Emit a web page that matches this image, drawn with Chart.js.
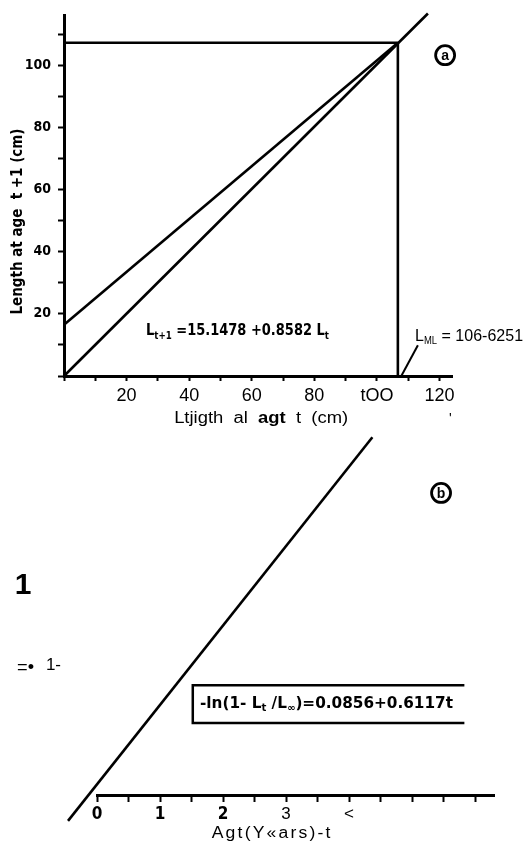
<!DOCTYPE html>
<html><head><meta charset="utf-8">
<script src="https://cdn.jsdelivr.net/npm/chart.js@4.4.1/dist/chart.umd.min.js"></script>
<style>
html,body{margin:0;padding:0;background:#fff;width:527px;height:847px;overflow:hidden}
canvas{position:absolute;left:0;top:0}
</style></head><body>
<canvas id="chartA" width="527" height="847"></canvas>
<canvas id="chartB" width="527" height="847"></canvas>
<script>
// ---------- Panel (a): Ford-Walford plot ----------
const aIdentityX = [0, 116.3];
const aIdentityY = [0, 116.6];
const aRegressionX = [0, 106.7];
const aRegressionY = [16.5, 107.2];
const aLinfHorizX = [0, 106.7];
const aLinfHorizY = [107.2, 107.2];
const aLinfVertX = [106.7, 106.7];
const aLinfVertY = [0, 107.2];
const aPointerX = [113.1, 107.8];
const aPointerY = [9.9, 0];
const aXTickValues = [0, 10, 20, 30, 40, 50, 60, 70, 80, 90, 100, 110, 120];
const aXLabelValues = [20, 40, 60, 80, 100, 120];
const aXLabelTexts = ['20', '40', '60', '80', 'tOO', '120'];
const aYTickValues = [0, 10, 20, 30, 40, 50, 60, 70, 80, 90, 100, 110];
const aYLabelValues = [20, 40, 60, 80, 100];
const aYLabelTexts = ['20', '40', '60', '80', '100'];

// ---------- Panel (b): von Bertalanffy linearisation ----------
const bLineT = [-0.46, 4.37];
const bLineY = [-0.2, 2.76];
const bXTickValues = [0, 0.5, 1, 1.5, 2, 2.5, 3, 3.5, 4, 4.5, 5, 5.5, 6];
const bXLabelValues = [0, 1, 2, 3, 4];
const bXLabelTexts = ['0', '1', '2', '3', '<'];
const bXLabelBold = [true, true, true, false, false];
const bYTickValues = [1];
const bYLabelTexts = ['1-'];

const COND = "'DejaVu Sans Condensed','Liberation Sans Narrow','DejaVu Sans',sans-serif";
const SANS = "'Liberation Sans',Arial,sans-serif";

function pts(xs, ys) { return xs.map((x, i) => ({x: x, y: ys[i]})); }
function ds(xs, ys, extra) {
  return Object.assign({data: pts(xs, ys), showLine: true, borderColor: '#000', borderWidth: 2.6,
    pointRadius: 0, fill: false, tension: 0, clip: false}, extra || {});
}
function fitText(ctx, segs, x, y, width, align) {
  let total = 0;
  segs.forEach(s => { ctx.font = s.font; s.w = ctx.measureText(s.text).width; total += s.w; });
  const sx = width ? width / total : 1;
  ctx.save();
  const x0 = align === 'center' ? x - total * sx / 2 : x;
  ctx.translate(x0, y); ctx.scale(sx, 1);
  ctx.fillStyle = '#000'; ctx.textAlign = 'left'; ctx.textBaseline = 'alphabetic';
  let cx = 0;
  segs.forEach(s => { ctx.font = s.font; ctx.fillText(s.text, cx, s.dy || 0); cx += s.w; });
  ctx.restore();
}
function circled(ctx, cx, cy, letter) {
  ctx.save();
  ctx.lineWidth = 2.8; ctx.strokeStyle = '#000';
  ctx.beginPath(); ctx.arc(cx, cy, 9.5, 0, Math.PI * 2); ctx.stroke();
  ctx.fillStyle = '#000'; ctx.font = 'bold 14px ' + SANS; ctx.textAlign = 'center'; ctx.textBaseline = 'middle';
  ctx.fillText(letter, cx, cy + 1);
  ctx.restore();
}
function fixTicks(values) { return s => { s.ticks = values.map(v => ({value: v})); }; }
function labelFor(values, texts) { return v => { const i = values.indexOf(v); return i < 0 ? '' : texts[i]; }; }

const gridTicks = (len) => ({display: true, drawOnChartArea: false, drawTicks: true, tickLength: len,
  tickColor: '#000', tickWidth: 2, color: '#000'});
const axisBorder = {display: true, color: '#000', width: 3};

const annotA = {
  id: 'annotA',
  afterDraw(chart) {
    const ctx = chart.ctx, x = chart.scales.x, y = chart.scales.y, ca = chart.chartArea;
    const B15 = 'bold 15px ' + COND, B10 = 'bold 10px ' + COND;
    fitText(ctx, [{text: 'L', font: B15}, {text: 't+1', font: B10, dy: 4},
      {text: ' =15.1478 +0.8582 L', font: B15}, {text: 't', font: B10, dy: 4}],
      x.getPixelForValue(26.2), y.getPixelForValue(13.3), 183, 'left');
    fitText(ctx, [{text: 'L', font: '17px ' + SANS}, {text: 'ML', font: '10px ' + SANS, dy: 3},
      {text: ' = 106-6251', font: '17px ' + SANS}],
      x.getPixelForValue(112.2), y.getPixelForValue(11.3), 108, 'left');
    circled(ctx, x.getPixelForValue(121.8), y.getPixelForValue(103.2), 'a');
    // y title
    ctx.save();
    ctx.translate(ca.left - 42, y.getPixelForValue(49.7));
    ctx.rotate(-Math.PI / 2);
    fitText(ctx, [{text: 'Length at age  t +1 (cm)', font: 'bold 16px ' + COND}], 0, 0, 186, 'center');
    ctx.restore();
    // x title
    fitText(ctx, [{text: 'Ltjigth  al  ', font: '16px ' + SANS}, {text: 'agt', font: 'bold 16px ' + SANS},
      {text: '  t  (cm)', font: '16px ' + SANS}], x.getPixelForValue(63), ca.bottom + 47, 174, 'center');
    fitText(ctx, [{text: "'", font: '14px ' + SANS}], x.getPixelForValue(123.5), ca.bottom + 47, 0, 'center');
  }
};

new Chart(document.getElementById('chartA'), {
  type: 'scatter',
  data: {datasets: [
    ds(aIdentityX, aIdentityY), ds(aRegressionX, aRegressionY),
    ds(aLinfHorizX, aLinfHorizY), ds(aLinfVertX, aLinfVertY),
    ds(aPointerX, aPointerY, {borderWidth: 2})
  ]},
  options: {
    responsive: false, animation: false, events: [],
    layout: {padding: {top: 12, left: 0, right: 75, bottom: 431}},
    plugins: {legend: {display: false}, tooltip: {enabled: false}},
    scales: {
      x: {type: 'linear', min: 0, max: 124, afterBuildTicks: fixTicks(aXTickValues),
        afterFit: s => { s.height = 40; },
        grid: gridTicks(5), border: axisBorder,
        ticks: {autoSkip: false, maxRotation: 0, padding: 4, color: '#000',
          font: {family: SANS, size: 18}, callback: labelFor(aXLabelValues, aXLabelTexts)}},
      y: {type: 'linear', min: 0, max: 116, afterBuildTicks: fixTicks(aYTickValues),
        afterFit: s => { s.width = 64; },
        grid: gridTicks(6), border: axisBorder,
        ticks: {autoSkip: false, padding: 7, color: '#000',
          font: {family: COND, size: 14, weight: 'bold'}, callback: labelFor(aYLabelValues, aYLabelTexts)}}
    }
  },
  plugins: [annotA]
});

const annotB = {
  id: 'annotB',
  afterDraw(chart) {
    const ctx = chart.ctx, x = chart.scales.x, y = chart.scales.y, ca = chart.chartArea;
    // box around equation
    const l = x.getPixelForValue(1.52), r = x.getPixelForValue(5.83);
    const t = y.getPixelForValue(0.847), b = y.getPixelForValue(0.555);
    ctx.save(); ctx.strokeStyle = '#000'; ctx.lineWidth = 2.5;
    ctx.beginPath(); ctx.moveTo(r, t); ctx.lineTo(l, t); ctx.lineTo(l, b); ctx.lineTo(r, b); ctx.stroke();
    ctx.restore();
    const B15 = 'bold 15px ' + COND, B10 = 'bold 10px ' + COND;
    fitText(ctx, [{text: '-ln(1- L', font: B15}, {text: 't', font: B10, dy: 3}, {text: ' /L', font: B15},
      {text: '\u221E', font: B10, dy: 3}, {text: ')=0.0856+0.6117t', font: B15}],
      x.getPixelForValue(1.635), y.getPixelForValue(0.67), 253, 'left');
    circled(ctx, x.getPixelForValue(5.46), y.getPixelForValue(2.33), 'b');
    // left-side labels
    ctx.save(); ctx.fillStyle = '#000'; ctx.font = 'bold 30px ' + SANS; ctx.textAlign = 'center';
    ctx.textBaseline = 'alphabetic';
    ctx.fillText('1', ca.left - 74, y.getPixelForValue(1.55));
    ctx.restore();
    fitText(ctx, [{text: '=\u2022', font: '18px ' + SANS}], ca.left - 80, y.getPixelForValue(0.94), 17, 'left');
    // x title
    ctx.save(); ctx.letterSpacing = '2px';
    fitText(ctx, [{text: 'Agt(Y\u00ABars)-t', font: '16px ' + SANS}], x.getPixelForValue(2.78), ca.bottom + 43, 121, 'center');
    ctx.restore();
  }
};

new Chart(document.getElementById('chartB'), {
  type: 'scatter',
  data: {datasets: [ds(bLineT, bLineY)]},
  options: {
    responsive: false, animation: false, events: [],
    layout: {padding: {top: 432, left: 0, right: 33, bottom: 12}},
    plugins: {legend: {display: false}, tooltip: {enabled: false}},
    scales: {
      x: {type: 'linear', min: 0, max: 6.3, afterBuildTicks: fixTicks(bXTickValues),
        afterFit: s => { s.height = 40; },
        grid: gridTicks(7), border: axisBorder,
        ticks: {autoSkip: false, maxRotation: 0, padding: 2, color: '#000',
          font: ctx => {
            const i = bXLabelValues.indexOf(ctx.tick ? ctx.tick.value : -1);
            return (i >= 0 && bXLabelBold[i]) ? {family: COND, size: 17, weight: 'bold'} : {family: SANS, size: 17};
          },
          callback: labelFor(bXLabelValues, bXLabelTexts)}},
      y: {type: 'linear', min: 0, max: 2.8, afterBuildTicks: fixTicks(bYTickValues),
        afterFit: s => { s.width = 97; },
        grid: {display: false, drawTicks: false}, border: {display: false},
        ticks: {autoSkip: false, padding: 36, color: '#000', font: {family: SANS, size: 17},
          callback: labelFor(bYTickValues, bYLabelTexts)}}
    }
  },
  plugins: [annotB]
});
</script>
</body></html>
